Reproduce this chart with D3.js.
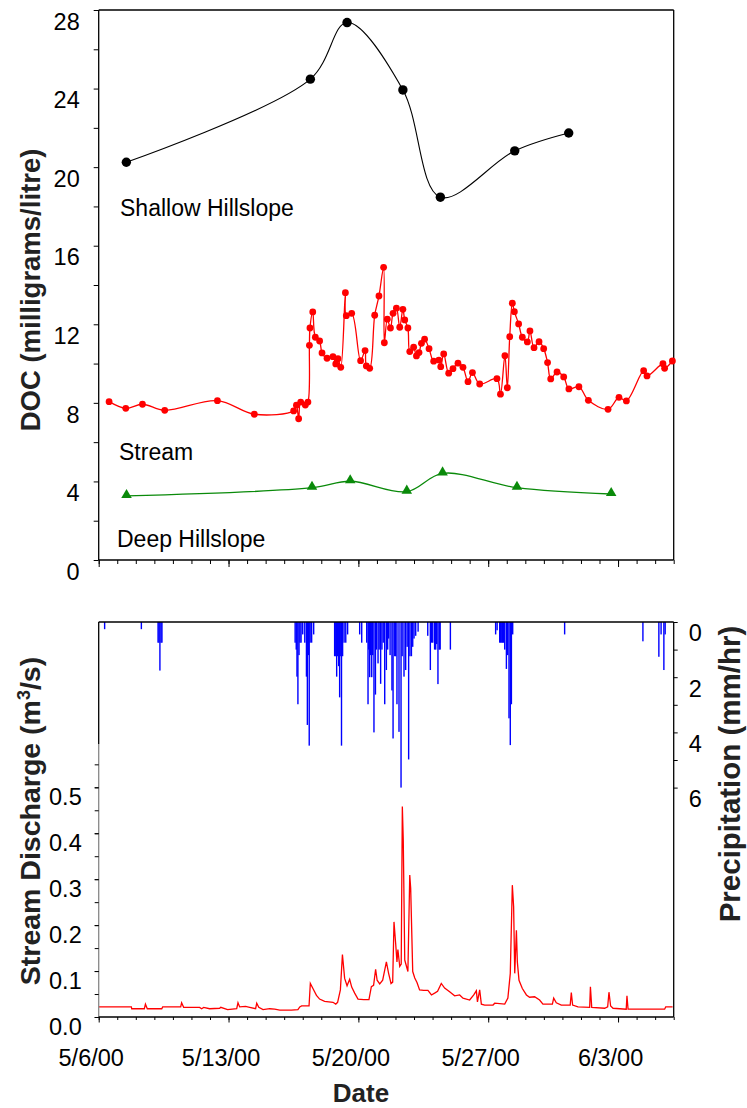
<!DOCTYPE html>
<html lang="en">
<head>
<meta charset="UTF-8">
<title>DOC, stream discharge and precipitation</title>
<script src="https://d3js.org/d3.v7.min.js"></script>
<style>
  body { margin: 0; background: #fff; }
  svg { display: block; font-family: "Liberation Sans", Arial, sans-serif; }
  .tick text { font-size: 23.5px; fill: #000; }
  .tick line { stroke: #000; }
  .label { font-size: 23px; fill: #000; }
  .title { font-weight: bold; fill: #222; }
</style>
</head>
<body>
<script>
// day offsets are counted from 5/6/00 00:00
const shallow = [[1.49, 20.25], [11.41, 24.48], [13.39, 27.36], [16.40, 23.93], [18.42, 18.47], [22.43, 20.83], [25.34, 21.74]];
const deep = [[1.50, 3.26], [11.50, 3.68], [13.56, 4.01], [16.61, 3.48], [18.54, 4.41], [22.55, 3.68], [27.63, 3.36]];
const stream = [
  [0.56, 8.06], [1.46, 7.72], [2.36, 7.93], [3.56, 7.62], [6.40, 8.11], [8.39, 7.42], [10.51, 7.59], [10.66, 7.88],
  [10.78, 7.19], [10.89, 8.04], [11.14, 7.89], [11.28, 8.04], [11.36, 10.93], [11.39, 11.81], [11.54, 12.63], [11.68, 11.34],
  [11.91, 11.15], [12.04, 10.54], [12.31, 10.27], [12.63, 10.35], [12.78, 9.98], [12.90, 10.25], [13.05, 9.81], [13.30, 13.61],
  [13.35, 12.44], [13.64, 12.56], [14.12, 10.15], [14.36, 10.66], [14.43, 9.88], [14.61, 9.76], [14.88, 12.46], [15.11, 13.44],
  [15.36, 14.90], [15.40, 11.06], [15.56, 12.26], [15.73, 11.81], [15.87, 12.56], [16.05, 12.82], [16.23, 11.85], [16.40, 12.76],
  [16.50, 12.22], [16.67, 11.81], [16.77, 10.61], [16.98, 10.83], [17.13, 10.39], [17.27, 10.56], [17.40, 11.03], [17.57, 11.24],
  [17.81, 10.76], [18.06, 10.12], [18.34, 10.18], [18.44, 9.84], [18.60, 10.49], [18.87, 9.51], [19.10, 9.74], [19.37, 10.02],
  [19.64, 9.81], [19.91, 9.08], [20.15, 9.54], [20.54, 8.96], [21.47, 9.23], [21.66, 8.44], [21.90, 10.40], [22.03, 8.77],
  [22.16, 11.37], [22.30, 13.07], [22.41, 12.64], [22.64, 12.02], [22.84, 11.34], [23.11, 11.10], [23.25, 11.66], [23.47, 10.81],
  [23.74, 11.11], [23.99, 10.76], [24.20, 10.05], [24.37, 9.22], [24.71, 9.57], [25.07, 9.32], [25.35, 8.71], [25.89, 8.82],
  [26.40, 8.13], [27.46, 7.67], [28.05, 8.28], [28.45, 8.10], [29.38, 9.64], [29.56, 9.37], [30.42, 9.99], [30.51, 9.76], [30.93, 10.13]
];
const discharge = [
  [0, 0.022], [1.76, 0.022], [1.78, 0.018], [2.46, 0.018], [2.52, 0.028], [2.62, 0.018], [3.40, 0.018], [3.45, 0.022],
  [4.42, 0.022], [4.47, 0.031], [4.58, 0.021], [5.44, 0.021], [5.55, 0.018], [5.66, 0.021], [5.98, 0.018], [6.52, 0.019],
  [6.58, 0.021], [6.95, 0.016], [7.44, 0.018], [7.51, 0.031], [7.60, 0.022], [7.92, 0.023], [8.14, 0.021], [8.46, 0.018],
  [8.52, 0.030], [8.63, 0.021], [8.86, 0.016], [9.22, 0.018], [9.49, 0.017], [9.76, 0.015], [10.39, 0.015], [10.74, 0.016],
  [10.84, 0.022], [10.94, 0.024], [11.34, 0.024], [11.41, 0.073], [11.55, 0.062], [11.74, 0.047], [11.91, 0.039], [12.18, 0.034],
  [12.63, 0.032], [12.78, 0.028], [12.88, 0.032], [13.03, 0.059], [13.14, 0.136], [13.26, 0.084], [13.39, 0.068], [13.53, 0.082],
  [13.64, 0.065], [13.80, 0.052], [13.98, 0.039], [14.29, 0.038], [14.57, 0.038], [14.70, 0.066], [14.82, 0.069], [14.93, 0.104],
  [15.01, 0.080], [15.15, 0.072], [15.31, 0.080], [15.51, 0.120], [15.63, 0.095], [15.76, 0.073], [15.85, 0.076], [15.92, 0.207],
  [16.01, 0.160], [16.08, 0.120], [16.13, 0.147], [16.23, 0.110], [16.31, 0.115], [16.37, 0.458], [16.42, 0.385], [16.50, 0.124],
  [16.67, 0.099], [16.77, 0.309], [16.82, 0.280], [16.93, 0.099], [17.04, 0.085], [17.16, 0.075], [17.30, 0.059], [17.52, 0.058],
  [17.75, 0.058], [17.94, 0.048], [18.11, 0.052], [18.27, 0.056], [18.47, 0.073], [18.65, 0.063], [18.92, 0.055], [19.19, 0.046],
  [19.46, 0.048], [19.64, 0.041], [20.00, 0.037], [20.22, 0.048], [20.36, 0.057], [20.42, 0.033], [20.54, 0.059], [20.63, 0.028],
  [20.81, 0.026], [21.26, 0.026], [21.35, 0.030], [21.89, 0.028], [22.06, 0.041], [22.19, 0.095], [22.30, 0.287], [22.37, 0.240],
  [22.43, 0.095], [22.52, 0.189], [22.57, 0.120], [22.66, 0.080], [22.84, 0.062], [23.06, 0.048], [23.23, 0.043], [23.50, 0.044],
  [23.77, 0.037], [23.95, 0.028], [24.46, 0.028], [24.53, 0.041], [24.67, 0.031], [24.94, 0.026], [25.42, 0.026], [25.48, 0.053],
  [25.55, 0.026], [25.84, 0.022], [26.47, 0.021], [26.51, 0.066], [26.58, 0.021], [27.28, 0.019], [27.44, 0.022], [27.51, 0.054],
  [27.60, 0.024], [27.73, 0.019], [28.44, 0.017], [28.48, 0.046], [28.54, 0.017], [30.51, 0.017], [30.57, 0.022], [30.94, 0.022]
];
const rain = [
  [0.32, 0.26], [2.30, 0.26], [3.20, 0.75], [3.25, 0.75], [3.30, 1.76], [3.36, 0.75], [3.41, 0.75],
  [10.59, 0.75], [10.65, 1.0], [10.69, 1.98], [10.74, 2.98], [10.80, 1.2], [10.85, 0.75], [10.91, 0.75], [11.00, 0.45],
  [11.11, 0.75], [11.20, 1.98], [11.25, 3.73], [11.30, 1.2], [11.35, 4.48], [11.40, 0.75], [11.48, 0.75], [11.59, 0.45],
  [12.72, 1.24], [12.78, 1.24], [12.83, 1.98], [12.88, 1.24], [12.94, 1.6], [12.99, 2.73], [13.05, 1.24], [13.09, 4.48],
  [13.15, 1.24], [13.23, 0.75], [13.32, 0.75], [13.42, 0.45], [14.07, 0.45], [14.18, 0.75],
  [14.45, 0.75], [14.52, 2.98], [14.56, 1.0], [14.61, 2.0], [14.66, 1.2], [14.72, 2.0], [14.77, 1.2], [14.84, 4.0],
  [14.92, 2.63], [14.97, 1.0], [15.06, 1.5], [15.12, 1.0], [15.20, 2.24], [15.27, 1.0], [15.34, 0.75], [15.42, 2.98],
  [15.51, 1.74], [15.58, 1.0], [15.63, 0.6], [15.71, 1.2], [15.81, 2.48], [15.87, 4.22], [15.96, 1.24], [16.01, 1.24],
  [16.08, 2.98], [16.19, 3.98], [16.30, 6.0], [16.36, 1.24], [16.46, 1.98], [16.55, 1.74], [16.63, 0.9], [16.71, 4.98],
  [16.78, 1.24], [16.86, 1.24], [16.93, 0.9], [17.00, 0.6], [17.09, 0.5], [17.22, 0.35],
  [17.74, 0.5], [17.88, 1.74], [17.95, 0.75], [18.01, 0.75], [18.11, 1.0], [18.17, 1.0], [18.22, 0.8], [18.29, 2.25],
  [18.36, 1.0], [18.41, 1.0], [18.96, 1.0],
  [21.40, 0.45], [21.48, 0.3], [21.62, 0.75], [21.67, 0.75], [21.73, 0.75], [21.78, 0.75], [21.83, 0.75], [21.89, 1.0],
  [21.98, 1.7], [22.05, 1.2], [22.12, 3.49], [22.19, 4.46], [22.25, 2.98], [22.32, 0.45],
  [25.12, 0.45], [29.34, 0.7], [30.20, 1.26], [30.32, 0.45], [30.47, 1.74], [30.54, 0.45]
];
const weekLabels = ['5/6/00', '5/13/00', '5/20/00', '5/27/00', '6/3/00'];
const docTicks = [0, 4, 8, 12, 16, 20, 24, 28];
const qTicks = [0, 0.1, 0.2, 0.3, 0.4, 0.5];
const rainTicks = [0, 2, 4, 6];

const width = 747, height = 1108;
const start = new Date(2000, 4, 6);
const toDate = d => new Date(start.getTime() + d * 86400000);
const days = d3.range(0, 32).map(toDate);
const weeks = weekLabels.map((s, i) => toDate(i * 7));

const svg = d3.select('body').append('svg')
  .attr('width', width)
  .attr('height', height);

const x = d3.scaleTime()
  .domain([start, toDate(31)])
  .range([98.7, 673.7]);

// ---------- top panel: DOC ----------
const yDoc = d3.scaleLinear().domain([0, 28]).range([560, 10]);

const docPanel = svg.append('g');
docPanel.append('line').attr('x1', 98.7).attr('x2', 673.7).attr('y1', 10).attr('y2', 10).attr('stroke', '#000').attr('stroke-width', 1.3);
docPanel.append('line').attr('x1', 673.7).attr('x2', 673.7).attr('y1', 10).attr('y2', 560).attr('stroke', '#000').attr('stroke-width', 1.3);
docPanel.append('line').attr('x1', 98.7).attr('x2', 98.7).attr('y1', 10).attr('y2', 560).attr('stroke', '#000').attr('stroke-width', 1.3);
docPanel.append('line').attr('x1', 98.7).attr('x2', 673.7).attr('y1', 560).attr('y2', 560).attr('stroke', '#000').attr('stroke-width', 1.3);

docPanel.append('g').attr('transform', 'translate(0,560)')
  .call(d3.axisBottom(x).tickValues(days).tickSize(4).tickSizeOuter(0).tickFormat(''))
  .call(g => g.select('.domain').remove());
docPanel.append('g').attr('transform', 'translate(0,560)')
  .call(d3.axisBottom(x).tickValues(weeks).tickSize(7).tickSizeOuter(0).tickFormat(''))
  .call(g => g.select('.domain').remove());

docPanel.append('g').attr('transform', 'translate(98.7,0)')
  .call(d3.axisLeft(yDoc).tickValues(d3.range(2, 28, 4)).tickSize(5).tickFormat(''))
  .call(g => g.select('.domain').remove());
docPanel.append('g').attr('transform', 'translate(98.7,0)')
  .call(d3.axisLeft(yDoc).tickValues(docTicks).tickSize(5).tickPadding(14))
  .call(g => g.select('.domain').remove())
  .call(g => g.selectAll('text').attr('dy', '0.82em'));

const lineDoc = d3.line()
  .x(d => x(toDate(d[0])))
  .y(d => yDoc(d[1]))
  .curve(d3.curveCatmullRom.alpha(0.5));

docPanel.append('path').datum(shallow).attr('d', lineDoc)
  .attr('fill', 'none').attr('stroke', '#000').attr('stroke-width', 1.1);
docPanel.selectAll('.shallow').data(shallow).join('circle')
  .attr('class', 'shallow')
  .attr('cx', d => x(toDate(d[0]))).attr('cy', d => yDoc(d[1]))
  .attr('r', 4.7).attr('fill', '#000');

docPanel.append('path').datum(stream).attr('d', lineDoc)
  .attr('fill', 'none').attr('stroke', '#ff0000').attr('stroke-width', 1.3);
docPanel.selectAll('.stream').data(stream).join('circle')
  .attr('class', 'stream')
  .attr('cx', d => x(toDate(d[0]))).attr('cy', d => yDoc(d[1]))
  .attr('r', 3.4).attr('fill', '#ff0000');

docPanel.append('path').datum(deep).attr('d', lineDoc)
  .attr('fill', 'none').attr('stroke', '#0a8a0a').attr('stroke-width', 1.3);
docPanel.selectAll('.deep').data(deep).join('path')
  .attr('class', 'deep')
  .attr('transform', d => `translate(${x(toDate(d[0]))},${yDoc(d[1]) - 1})`)
  .attr('d', d3.symbol(d3.symbolTriangle, 48))
  .attr('fill', '#0a8a0a');

docPanel.append('text').attr('class', 'label').attr('x', 120).attr('y', 216).text('Shallow Hillslope');
docPanel.append('text').attr('class', 'label').attr('x', 119).attr('y', 460).text('Stream');
docPanel.append('text').attr('class', 'label').attr('x', 117).attr('y', 547).text('Deep Hillslope');

docPanel.append('text').attr('class', 'title')
  .attr('transform', 'translate(40,290) rotate(-90)')
  .attr('text-anchor', 'middle')
  .style('font-size', '27.5px')
  .text('DOC (milligrams/litre)');

// ---------- bottom panel: discharge and precipitation ----------
const yQ = d3.scaleLinear().domain([0, 0.5]).range([1017, 787.3]);
const yRain = d3.scaleLinear().domain([0, 6]).range([622, 787.6]);

const flowPanel = svg.append('g');

flowPanel.selectAll('.rain').data(rain).join('rect')
  .attr('class', 'rain')
  .attr('x', d => x(toDate(d[0])) - 0.7)
  .attr('y', yRain(0))
  .attr('width', 1.4)
  .attr('height', d => yRain(d[1]) - yRain(0))
  .attr('fill', '#0000ff');

flowPanel.append('path').datum(discharge)
  .attr('d', d3.line().x(d => x(toDate(d[0]))).y(d => yQ(d[1])))
  .attr('fill', 'none').attr('stroke', '#ff0000').attr('stroke-width', 1.3);

flowPanel.append('line').attr('x1', 98.7).attr('x2', 673.7).attr('y1', 622).attr('y2', 622).attr('stroke', '#000').attr('stroke-width', 1.3);
flowPanel.append('line').attr('x1', 98.7).attr('x2', 98.7).attr('y1', 622).attr('y2', 744).attr('stroke', '#000').attr('stroke-width', 1.3);
flowPanel.append('line').attr('x1', 98.7).attr('x2', 98.7).attr('y1', 744).attr('y2', 1017).attr('stroke', '#888').attr('stroke-width', 1.3);
flowPanel.append('line').attr('x1', 673.7).attr('x2', 673.7).attr('y1', 622).attr('y2', 1017).attr('stroke', '#000').attr('stroke-width', 1.3);
flowPanel.append('line').attr('x1', 98.7).attr('x2', 673.7).attr('y1', 1017).attr('y2', 1017).attr('stroke', '#000').attr('stroke-width', 1.3);

flowPanel.append('g').attr('transform', 'translate(0,1017)')
  .call(d3.axisBottom(x).tickValues(days).tickSize(3).tickSizeOuter(0).tickFormat(''))
  .call(g => g.select('.domain').remove());
flowPanel.append('g').attr('transform', 'translate(0,1017)')
  .call(d3.axisBottom(x).tickValues(weeks).tickSize(5.5).tickSizeOuter(0).tickFormat((d, i) => weekLabels[i]))
  .call(g => g.select('.domain').remove())
  .call(g => g.selectAll('text').attr('y', 32).attr('dx', -8));

flowPanel.append('g').attr('transform', 'translate(98.7,0)')
  .call(d3.axisLeft(yQ).tickValues(d3.range(0, 0.56, 0.05)).tickSize(4).tickFormat(''))
  .call(g => g.select('.domain').remove());
flowPanel.append('g').attr('transform', 'translate(98.7,0)')
  .call(d3.axisLeft(yQ).tickValues(qTicks).tickSize(4).tickPadding(13).tickFormat(d3.format('.1f')))
  .call(g => g.select('.domain').remove())
  .call(g => g.selectAll('text').attr('dy', '0.75em'));

flowPanel.append('g').attr('transform', 'translate(673.7,0)')
  .call(d3.axisRight(yRain).tickValues(d3.range(0, 7)).tickSize(4).tickFormat(''))
  .call(g => g.select('.domain').remove());
flowPanel.append('g').attr('transform', 'translate(673.7,0)')
  .call(d3.axisRight(yRain).tickValues(rainTicks).tickSize(0).tickPadding(15).tickFormat(d3.format('d')))
  .call(g => g.select('.domain').remove())
  .call(g => g.selectAll('text').attr('dy', '0.8em'));

const qTitle = flowPanel.append('text').attr('class', 'title')
  .attr('transform', 'translate(40,821) rotate(-90)')
  .attr('text-anchor', 'middle')
  .style('font-size', '28.5px');
qTitle.append('tspan').text('Stream Discharge (m');
qTitle.append('tspan').attr('dy', -10).style('font-size', '18px').text('3');
qTitle.append('tspan').attr('dy', 10).text('/s)');

flowPanel.append('text').attr('class', 'title')
  .attr('transform', 'translate(740,774) rotate(-90)')
  .attr('text-anchor', 'middle')
  .style('font-size', '29.5px')
  .text('Precipitation (mm/hr)');

flowPanel.append('text').attr('class', 'title')
  .attr('x', 361).attr('y', 1102)
  .attr('text-anchor', 'middle')
  .style('font-size', '26px')
  .text('Date');
</script>
</body>
</html>
